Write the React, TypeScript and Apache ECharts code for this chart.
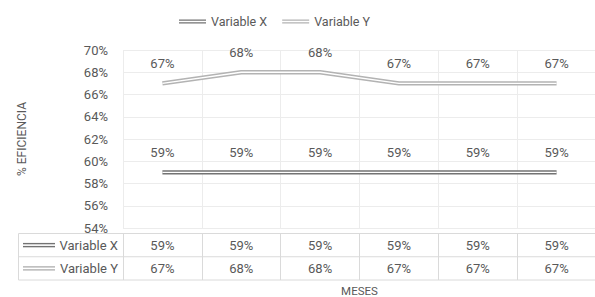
import React, { useEffect, useRef } from "react";
import * as echarts from "echarts";

const months = ["M1", "M2", "M3", "M4", "M5", "M6"];
const seriesNames = ["Variable X", "Variable Y"];
const valuesX = [59, 59, 59, 59, 59, 59];
const valuesY = [67, 68, 68, 67, 67, 67];
const yTicks = { min: 54, max: 70, interval: 2 };

const colorX = "#737373";
const colorY = "#b3b3b3";
const textColor = "#595959";
const FONT = "Roboto";

export default function App() {
  const ref = useRef<HTMLDivElement>(null);
  useEffect(() => {
    if (!ref.current) return;
    const chart = echarts.init(ref.current, null, { renderer: "svg" });
    const gridLeft = 123;
    const gridWidth = 473;
    const tTop = 233.5;
    const tBottom = 280;
    const tMid = (tTop + tBottom) / 2;
    const dbl = "path://M0,0H30V1.5H0Z M0,3H30V4.5H0Z";
    const seriesData = [valuesX, valuesY];
    const colors = [colorX, colorY];

    const lineSeries: any[] = [];
    seriesData.forEach((vals, k) => {
      lineSeries.push({
        name: seriesNames[k],
        type: "line",
        xAxisIndex: 0,
        yAxisIndex: 0,
        data: vals,
        symbol: "circle",
        symbolSize: 0.1,
        showSymbol: true,
        color: colors[k],
        lineStyle: { width: 4.4, color: colors[k] },
        itemStyle: { color: colors[k] },
        label: {
          show: true,
          position: "top",
          distance: 13,
          color: textColor,
          fontSize: 13,
          fontFamily: FONT,
          formatter: (p: any) => `${p.value}%`,
        },
        labelLayout: { hideOverlap: false },
        z: 3,
      });
      lineSeries.push({
        name: seriesNames[k] + "_inner",
        type: "line",
        xAxisIndex: 0,
        yAxisIndex: 0,
        data: vals,
        symbol: "none",
        lineStyle: { width: 1.4, color: "#ffffff" },
        silent: true,
        z: 4,
      });
    });

    const tableSeries = seriesData.map((vals, k) => ({
      name: seriesNames[k] + "_table",
      type: "scatter",
      xAxisIndex: 1,
      yAxisIndex: 1,
      symbolSize: 1,
      itemStyle: { color: "rgba(0,0,0,0)" },
      data: vals.map((v, i) => [i, 1.5 - k, v]),
      label: {
        show: true,
        position: "inside",
        align: "center",
        verticalAlign: "middle",
        color: textColor,
        opacity: 1,
        fontSize: 13,
        fontFamily: FONT,
        formatter: (p: any) => `${p.value[2]}%`,
      },
      labelLayout: { hideOverlap: false },
      silent: true,
      z: 5,
    }));

    const tblLine = "#dadada";
    const rowCenters = [(tTop + tMid) / 2, (tMid + tBottom) / 2];
    const graphics: any[] = [
      ...[tTop, tMid, tBottom].map((y) => ({
        type: "line",
        shape: { x1: 18.5, y1: y, x2: 595, y2: y },
        style: { stroke: tblLine, lineWidth: 1 },
      })),
      {
        type: "line",
        shape: { x1: 18.5, y1: tTop, x2: 18.5, y2: tBottom },
        style: { stroke: tblLine, lineWidth: 1 },
      },
    ];
    seriesNames.forEach((n, k) => {
      const cy = rowCenters[k];
      graphics.push(
        { type: "rect", shape: { x: 23, y: cy - 2.2, width: 32, height: 1.4 }, style: { fill: colors[k] } },
        { type: "rect", shape: { x: 23, y: cy + 0.8, width: 32, height: 1.4 }, style: { fill: colors[k] } },
        {
          type: "text",
          x: 118,
          y: cy,
          style: {
            text: n,
            fill: textColor,
            fontSize: 13,
            fontFamily: FONT,
            align: "right",
            verticalAlign: "middle",
          },
        }
      );
    });

    chart.setOption({
      animation: false,
      textStyle: { fontFamily: FONT },
      legend: {
        data: seriesNames,
        left: 174,
        top: 10,
        itemWidth: 27,
        itemHeight: 5,
        itemGap: 15,
        icon: dbl,
        textStyle: { color: textColor, fontSize: 12.5, fontFamily: FONT },
      },
      grid: [
        { left: gridLeft, top: 50, width: gridWidth, height: 178, outerBoundsMode: "none" },
        { left: gridLeft, top: tTop, width: gridWidth, height: tBottom - tTop, outerBoundsMode: "none" },
      ],
      xAxis: [
        {
          type: "category",
          gridIndex: 0,
          data: months,
          boundaryGap: true,
          axisLine: { show: false },
          axisTick: { show: false },
          axisLabel: { show: false },
          splitLine: { show: true, interval: 0, lineStyle: { color: "#ececec", width: 1 } },
        },
        {
          type: "category",
          gridIndex: 1,
          data: months,
          boundaryGap: true,
          axisLine: { show: false },
          axisTick: { show: false },
          axisLabel: { show: false },
          splitLine: { show: true, interval: 0, lineStyle: { color: tblLine, width: 1 } },
          name: "MESES",
          nameLocation: "middle",
          nameGap: 11,
          nameTextStyle: { color: textColor, fontSize: 11.5, fontFamily: FONT, verticalAlign: "middle" },
        },
      ],
      yAxis: [
        {
          type: "value",
          gridIndex: 0,
          min: yTicks.min,
          max: yTicks.max,
          interval: yTicks.interval,
          axisLine: { show: false },
          axisTick: { show: false },
          axisLabel: {
            color: textColor,
            fontSize: 13,
            fontFamily: FONT,
            margin: 15,
            formatter: (v: number) => `${v}%`,
          },
          splitLine: { show: true, lineStyle: { color: "#ececec", width: 1 } },
          name: "% EFICIENCIA",
          nameLocation: "middle",
          nameGap: 95,
          nameRotate: 90,
          nameTextStyle: { color: textColor, fontSize: 12, fontFamily: FONT },
        },
        {
          type: "value",
          gridIndex: 1,
          min: 0,
          max: 2,
          interval: 1,
          axisLine: { show: false },
          axisTick: { show: false },
          axisLabel: { show: false },
          splitLine: { show: false },
        },
      ],
      series: [...lineSeries, ...tableSeries],
      graphic: graphics,
    });
    return () => chart.dispose();
  }, []);
  return <div ref={ref} style={{ width: 595, height: 297, position: "absolute", left: 0, top: 0 }} />;
}
